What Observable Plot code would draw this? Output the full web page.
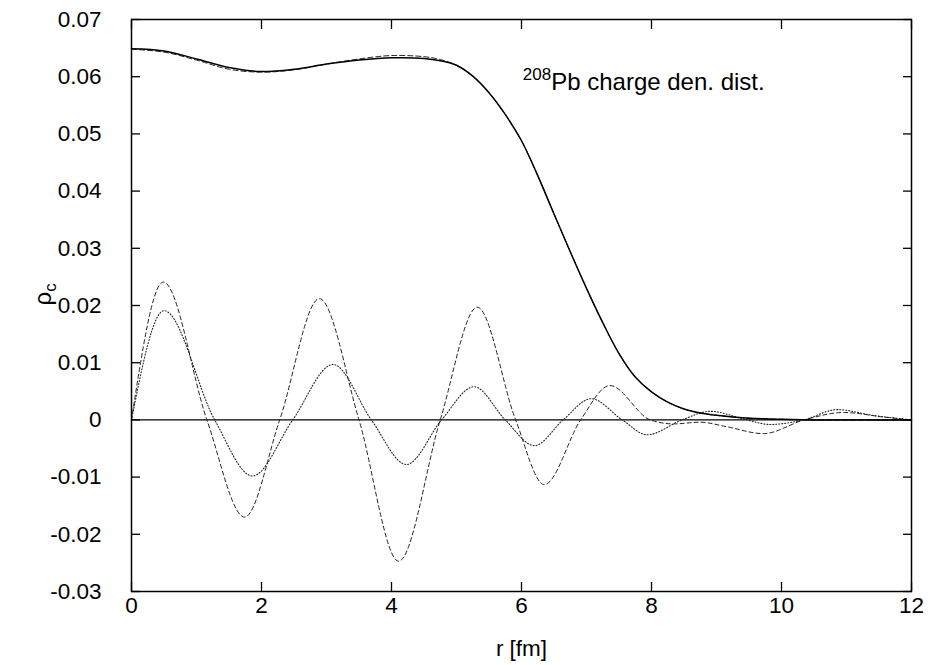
<!DOCTYPE html>
<html><head><meta charset="utf-8">
<script src="https://cdn.jsdelivr.net/npm/d3@7"></script>
<script src="https://cdn.jsdelivr.net/npm/@observablehq/plot@0.6"></script>
<style>body{margin:0;background:#fff} #chart svg{display:block}</style>
</head><body><div id="chart"></div>
<script>
// radius grid (fm) for the two total charge density curves
const rGrid = [0,0.5,1,1.5,2,2.5,3,3.5,4,4.5,4.75,5,5.25,5.5,5.75,6,6.25,6.5,6.75,7,7.25,7.5,7.75,8,8.25,8.5,8.75,9,9.5,10,10.5,11,12];
const rhoSolid = [0.0649,0.0645,0.0631,0.0616,0.0609,0.0613,0.0622,0.0629,0.0633,0.0632,0.0628,0.0620,0.0601,0.0572,0.0534,0.0488,0.0427,0.0360,0.0294,0.0230,0.0170,0.0116,0.0075,0.0049,0.0031,0.0019,0.0012,0.0008,0.0003,0.0001,0,0,0];
const rhoDashed = [0.0648,0.0643,0.0629,0.0613,0.0608,0.0612,0.0622,0.0631,0.0637,0.0635,0.0630,0.0620,0.0601,0.0572,0.0534,0.0488,0.0427,0.0360,0.0294,0.0230,0.0170,0.0116,0.0075,0.0049,0.0031,0.0019,0.0012,0.0008,0.0003,0.0001,0,0,0];
// oscillating difference curves
const rOscA = [0,0.49,1.16,1.74,2.28,2.89,3.50,4.11,4.75,5.32,5.91,6.35,6.91,7.36,7.98,8.34,8.75,9.16,9.72,10.35,10.96,11.57,12];
const rhoOscA = [0,0.0241,0,-0.0170,0,0.0212,0,-0.0247,0,0.0197,0,-0.0113,0,0.0060,0,-0.0007,-0.0004,-0.0012,-0.0024,0,0.0013,0.0005,0];
const rOscB = [0,0.50,1.28,1.86,2.48,3.10,3.69,4.23,4.77,5.27,5.75,6.20,6.64,7.07,7.55,7.93,8.47,8.90,9.47,9.82,10.34,10.86,11.40,12];
const rhoOscB = [0,0.0191,0,-0.0098,0,0.0097,0,-0.0078,0,0.0058,0,-0.0045,0,0.0037,0,-0.0026,0,0.0015,0,-0.0008,0,0.0018,0.0008,0];
// ticks
const xTicks = [0,2,4,6,8,10,12];
const xTickLabels = ["0","2","4","6","8","10","12"];
const yTicks = [-0.03,-0.02,-0.01,0,0.01,0.02,0.03,0.04,0.05,0.06,0.07];
const yTickLabels = ["-0.03","-0.02","-0.01","0","0.01","0.02","0.03","0.04","0.05","0.06","0.07"];
// texts
const xLabel = "r [fm]";
const yLabel = "ρ";
const ySub = "c";
const annX = [6.02];
const annY = [0.0595];
const annSup = ["208"];
const annText = ["Pb charge den. dist."];

const solid = rGrid.map((r, i) => ({r, v: rhoSolid[i]}));
const dashed = rGrid.map((r, i) => ({r, v: rhoDashed[i]}));
const oscA = rOscA.map((r, i) => ({r, v: rhoOscA[i]}));
const oscB = rOscB.map((r, i) => ({r, v: rhoOscB[i]}));
const ann = annX.map((x, i) => ({x, y: annY[i], t: annText[i]}));

const font = "'Liberation Sans', Arial, Helvetica, sans-serif";
const tick = 9;
const fx = d => xTickLabels[xTicks.indexOf(d)];
const fy = d => yTickLabels[yTicks.indexOf(d)];

const plot = Plot.plot({
  width: 933, height: 665,
  marginLeft: 131, marginRight: 22, marginTop: 19, marginBottom: 74,
  style: {fontFamily: font, fontSize: "22.5px", background: "#fff", color: "#000", overflow: "visible"},
  x: {domain: [0, 12]},
  y: {domain: [-0.03, 0.07]},
  marks: [
    Plot.ruleY([0], {stroke: "#000", strokeWidth: 1.3}),
    Plot.line(oscA, {x: "r", y: "v", curve: "monotone-x", stroke: "#222", strokeWidth: 1, strokeDasharray: "4,3"}),
    Plot.line(oscB, {x: "r", y: "v", curve: "monotone-x", stroke: "#222", strokeWidth: 1.1, strokeDasharray: "1,2"}),
    Plot.line(dashed, {x: "r", y: "v", curve: "catmull-rom", stroke: "#222", strokeWidth: 1, strokeDasharray: "5,3"}),
    Plot.line(solid, {x: "r", y: "v", curve: "catmull-rom", stroke: "#000", strokeWidth: 1.5}),
    // inward ticks on all four sides
    Plot.axisX({anchor: "bottom", ticks: xTicks, tickSize: tick, dy: -tick, fill: "none", label: null, strokeWidth: 1.3}),
    Plot.axisX({anchor: "top", ticks: xTicks, tickSize: tick, dy: tick, fill: "none", label: null, strokeWidth: 1.3}),
    Plot.axisY({anchor: "left", ticks: yTicks, tickSize: tick, dx: tick, fill: "none", label: null, strokeWidth: 1.3}),
    Plot.axisY({anchor: "right", ticks: yTicks, tickSize: tick, dx: -tick, fill: "none", label: null, strokeWidth: 1.3}),
    // tick labels
    Plot.axisX({anchor: "bottom", ticks: xTicks, tickSize: 0, tickPadding: 6, tickFormat: fx, label: null}),
    Plot.axisY({anchor: "left", ticks: yTicks, tickSize: 0, tickPadding: 30, tickFormat: fy, label: null}),
    Plot.frame({stroke: "#000", strokeWidth: 1.5}),
    // axis titles
    Plot.text([xLabel], {frameAnchor: "bottom", dy: 57, lineAnchor: "middle", fontSize: 22.5}),
    Plot.text([yLabel], {frameAnchor: "left", dx: -88, rotate: -90, lineAnchor: "middle", fontSize: 24}),
    // annotation
    Plot.text(ann, {x: "x", y: "y", text: "t", textAnchor: "start", lineAnchor: "middle", fontSize: 24})
  ]
});
document.getElementById("chart").appendChild(plot);

const svg = d3.select(plot);
svg.selectAll("text").filter(function () { return this.textContent === yLabel; })
  .each(function () {
    const t = d3.select(this);
    t.append("tspan").attr("dy", "0.28em").attr("font-size", "17px").text(ySub);
  });
svg.selectAll("text").filter(function () { return this.textContent === annText[0]; })
  .each(function () {
    const t = d3.select(this);
    t.text(null);
    t.append("tspan").attr("dy", "-0.4em").attr("font-size", "17px").text(annSup[0]);
    t.append("tspan").attr("dy", "0.4em").text(annText[0]);
  });
</script>
</body></html>
